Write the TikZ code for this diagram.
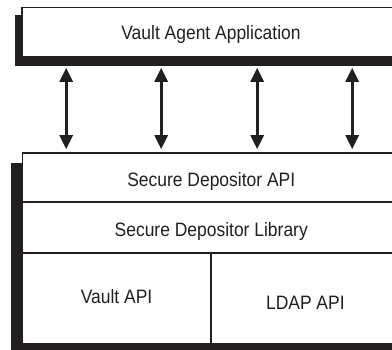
\documentclass[tikz,border=0pt]{standalone}
\usepackage{fontspec}
\setmainfont{Liberation Sans}[FakeStretch=0.9]
\usetikzlibrary{arrows.meta,calc}
\definecolor{ink}{HTML}{231F20}
\tikzset{
  layer/.style={draw=ink, line width=1.6pt, fill=white, rectangle, inner sep=0pt,
    text=ink, font=\fontsize{19.4}{22}\selectfont, text height=13.8pt, text depth=0pt},
  shade/.style={fill=ink},
  link/.style={ink, line width=2.8pt, {Triangle[width=13pt,length=14pt]}-{Triangle[width=13pt,length=14pt]}}
}
\begin{document}
\begin{tikzpicture}[x=1pt,y=-1pt]
  \clip (0,0) rectangle (392,350);
  \fill[white] (0,0) rectangle (392,350);

  % application block with its drop shadow
  \fill[shade] (15,15) rectangle (402,66);
  \node[layer, minimum width=378pt, minimum height=49.5pt] (app) at (211,32.25)
    {\raisebox{-0.3pt}{Vault Agent Application}};

  % library stack with its drop shadow
  \fill[shade] (11,163) rectangle (402,350);
  \node[layer, minimum width=377.5pt, minimum height=49pt] (sdapi) at (211.25,177.5)
    {\raisebox{-2.5pt}{Secure Depositor API}};
  \node[layer, minimum width=377.5pt, minimum height=51pt] (sdlib) at (211.25,227.5)
    {\raisebox{-2.5pt}{Secure Depositor Library}};
  \node[layer, minimum width=188.2pt, minimum height=91pt] (vault) at (116.6,298.5)
    {\raisebox{1.8pt}{Vault API}};
  \node[layer, minimum width=189.3pt, minimum height=91pt] (ldap) at (305.35,298.5)
    {\raisebox{-4pt}{LDAP API}};

  % two-way calls between the application and the API layer
  \foreach \dx in {45,140,236,331}
    \draw[link] ($(app.south west)+(\dx,10)$) -- ($(sdapi.north west)+(\dx-0.5,-3)$);
\end{tikzpicture}
\end{document}
